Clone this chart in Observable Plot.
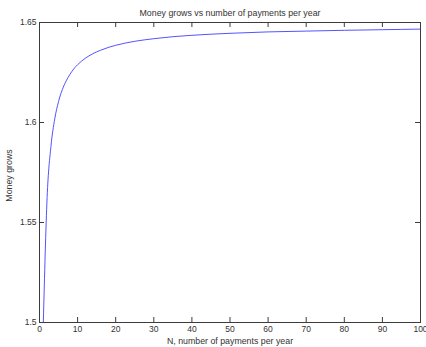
<!DOCTYPE html>
<html>
<head>
<meta charset="utf-8">
<script src="https://cdn.jsdelivr.net/npm/d3@7"></script>
<script src="https://cdn.jsdelivr.net/npm/@observablehq/plot@0.6"></script>
<style>
  html, body { margin: 0; padding: 0; background: #fff; }
  #chart svg { display: block; }
</style>
</head>
<body>
<div id="chart"></div>
<script>
// N, number of payments per year
const payments = [1, 2, 3, 4, 5, 6, 7, 8, 9, 10, 12, 14, 16, 18, 20, 25, 30, 35, 40, 50, 60, 70, 80, 90, 100];
// Money grows
const growth = [1.5, 1.5625, 1.588, 1.6018, 1.6105, 1.6165, 1.6208, 1.6241, 1.6268, 1.6289, 1.6321, 1.6344, 1.6361, 1.6375, 1.6386, 1.6406, 1.6419, 1.6429, 1.6436, 1.6446, 1.6453, 1.6457, 1.6461, 1.6464, 1.6467];
const xTicks = [0, 10, 20, 30, 40, 50, 60, 70, 80, 90, 100];
const yTicks = [1.5, 1.55, 1.6, 1.65];
const titleText = "Money grows vs number of payments per year";
const xLabel = "N, number of payments per year";
const yLabel = "Money grows";

const data = payments.map((n, i) => ({n, v: growth[i]}));

const W = 426, H = 347;
const mL = 39, mR = 6, mT = 22, mB = 25;
const fw = W - mL - mR, fh = H - mT - mB;
const axisColor = "#3c3c3c";
const textColor = "#333";

const chart = Plot.plot({
  width: W,
  height: H,
  marginLeft: mL,
  marginRight: mR,
  marginTop: mT,
  marginBottom: mB,
  style: {fontFamily: "Liberation Sans, Arial, sans-serif", fontSize: "8.5px", color: textColor, background: "#fff"},
  x: {domain: [0, 100]},
  y: {domain: [1.5, 1.65]},
  marks: [
    Plot.line(data, {x: "n", y: "v", stroke: "#4040ff", strokeWidth: 0.9, curve: "monotone-x", clip: true}),
    // inward ticks, bottom & top
    Plot.tickX(xTicks, {x: d => d, stroke: axisColor, insetTop: fh - 5}),
    Plot.tickX(xTicks, {x: d => d, stroke: axisColor, insetBottom: fh - 5}),
    // inward ticks, left & right
    Plot.tickY(yTicks, {y: d => d, stroke: axisColor, insetRight: fw - 5}),
    Plot.tickY(yTicks, {y: d => d, stroke: axisColor, insetLeft: fw - 5}),
    Plot.frame({stroke: axisColor}),
    Plot.axisX({ticks: xTicks, tickSize: 0, tickPadding: 3, label: null, tickFormat: d => String(d)}),
    Plot.axisY({ticks: yTicks, tickSize: 0, tickPadding: 3, label: null, tickFormat: d => String(d)}),
    Plot.text([xLabel], {frameAnchor: "bottom", lineAnchor: "middle", dy: 18.5, text: d => d, fontSize: 8.8, fill: textColor}),
    Plot.text([yLabel], {frameAnchor: "left", textAnchor: "middle", lineAnchor: "middle", dx: -30, dy: 3, rotate: -90, text: d => d, fontSize: 8.8, fill: textColor}),
    Plot.text([titleText], {frameAnchor: "top", lineAnchor: "middle", dy: -9, text: d => d, fontSize: 8.8, fill: textColor})
  ]
});
document.getElementById("chart").appendChild(chart);
</script>
</body>
</html>
